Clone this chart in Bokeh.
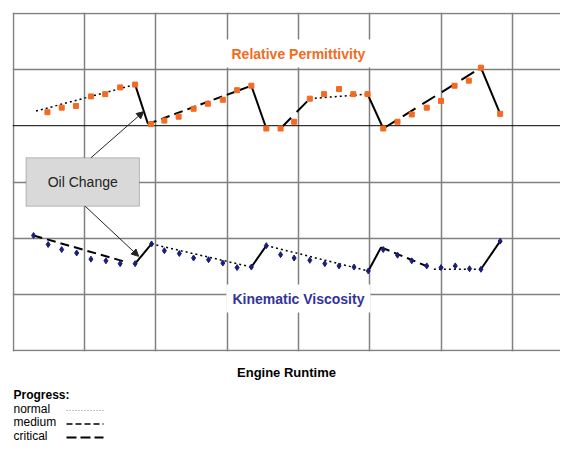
from bokeh.plotting import figure
from bokeh.layouts import column
from bokeh.models import (ColumnDataSource, Label, Arrow, NormalHead, BoxAnnotation,
                          Span, FixedTicker, Range1d)
from bokeh.core.properties import value
from bokeh.embed import file_html
from bokeh.resources import INLINE

# ---------------- data ----------------
perm_x = [0.48, 0.68, 0.88, 1.09, 1.29, 1.50, 1.71, 1.93, 2.12, 2.32, 2.53, 2.73, 2.94,
          3.14, 3.34, 3.55, 3.75, 3.94, 4.16, 4.36, 4.57, 4.77, 4.97, 5.19, 5.39, 5.59,
          5.80, 6.00, 6.19, 6.39, 6.56, 6.83]
perm_y = [4.24, 4.32, 4.35, 4.52, 4.56, 4.68, 4.73, 4.03, 4.09, 4.16, 4.30, 4.39, 4.46,
          4.63, 4.71, 3.95, 3.95, 4.07, 4.48, 4.56, 4.65, 4.56, 4.56, 3.95, 4.07, 4.20,
          4.32, 4.44, 4.71, 4.80, 5.03, 4.21]

visc_x = [0.285, 0.49, 0.68, 0.89, 1.09, 1.30, 1.50, 1.71, 1.94, 2.12, 2.33, 2.53, 2.74,
          2.94, 3.14, 3.34, 3.55, 3.75, 3.94, 4.16, 4.37, 4.57, 4.78, 4.98, 5.19, 5.39,
          5.59, 5.80, 6.00, 6.20, 6.40, 6.56, 6.83]
visc_y = [2.05, 1.89, 1.80, 1.74, 1.63, 1.60, 1.55, 1.55, 1.90, 1.78, 1.73, 1.65, 1.62,
          1.56, 1.48, 1.49, 1.87, 1.71, 1.65, 1.61, 1.55, 1.51, 1.49, 1.42, 1.80, 1.70,
          1.60, 1.51, 1.48, 1.51, 1.46, 1.45, 1.95]

# trend segments (progress style)
perm_seg_style = ["normal", "change", "medium", "change", "critical", "normal",
                  "change", "critical", "change"]
perm_seg_x0 = [0.32, 1.71, 1.89, 3.34, 3.75, 4.16, 4.97, 5.19, 6.56]
perm_seg_y0 = [4.26, 4.73, 4.03, 4.71, 3.95, 4.48, 4.56, 3.95, 5.03]
perm_seg_x1 = [1.71, 1.89, 3.34, 3.55, 4.16, 4.97, 5.19, 6.56, 6.83]
perm_seg_y1 = [4.73, 4.03, 4.71, 3.95, 4.48, 4.56, 3.95, 5.03, 4.21]

visc_seg_style = ["medium", "change", "normal", "change", "normal", "change",
                  "medium", "normal", "change"]
visc_seg_x0 = [0.285, 1.71, 1.94, 3.34, 3.55, 4.98, 5.16, 5.90, 6.56]
visc_seg_y0 = [2.05, 1.55, 1.90, 1.49, 1.87, 1.42, 1.84, 1.45, 1.45]
visc_seg_x1 = [1.58, 1.94, 3.34, 3.55, 4.98, 5.16, 5.81, 6.56, 6.83]
visc_seg_y1 = [1.58, 1.90, 1.49, 1.87, 1.42, 1.84, 1.50, 1.45, 1.95]

grid_x = [0, 1, 2, 3, 4, 5, 6, 7]
grid_y = [0, 1, 2, 3, 5, 6]
baseline_y = 4

legend_title = "Progress:"
legend_labels = ["normal", "medium", "critical"]

# ---------------- styles ----------------
FONT = "Liberation Sans"
ORANGE = "#F26B22"
NAVY = "#1C1C7A"
BLUE_TXT = "#33339A"
styles = {
    "normal": dict(line_dash="2 3", line_width=1.5),
    "medium": dict(line_dash="9 5", line_width=2),
    "critical": dict(line_dash="15 8", line_width=2),
    "change": dict(line_dash="solid", line_width=2),
}
legend_styles = {
    "normal": dict(line_dash="1 2", line_width=1, line_color="#8a8a8a"),
    "medium": dict(line_dash="6 3", line_width=1.5, line_color="black"),
    "critical": dict(line_dash="10 4", line_width=2, line_color="black"),
}

chart = figure(width=560, height=382, x_range=(-0.01, 7.676), y_range=(-0.01, 6.01),
               output_backend="svg", toolbar_location=None,
               min_border_left=12, min_border_right=0, min_border_top=12,
               min_border_bottom=29)
chart.outline_line_color = None
chart.background_fill_color = "white"
chart.yaxis.visible = False

xa = chart.xaxis[0]
xa.ticker = FixedTicker(ticks=[])
xa.axis_line_color = None
xa.major_tick_line_color = None
xa.minor_tick_line_color = None
xa.major_tick_out = 0
xa.major_label_standoff = 0
xa.axis_label = "Engine Runtime"
xa.axis_label_text_font = FONT
xa.axis_label_text_font_style = "bold"
xa.axis_label_text_font_size = "13px"
xa.axis_label_text_color = "black"
xa.axis_label_standoff = 13

for g, t in ((chart.xgrid[0], grid_x), (chart.ygrid[0], grid_y)):
    g.ticker = FixedTicker(ticks=t)
    g.grid_line_color = "#808080"
    g.grid_line_width = 1.5

chart.add_layout(Span(location=baseline_y, dimension="width", line_color="black",
                      line_width=1, level="underlay"))

# trend segments
def draw_segments(style, xs0, ys0, xs1, ys1):
    for st in styles:
        idx = [i for i, s in enumerate(style) if s == st]
        if not idx:
            continue
        src = ColumnDataSource(dict(x0=[xs0[i] for i in idx], y0=[ys0[i] for i in idx],
                                    x1=[xs1[i] for i in idx], y1=[ys1[i] for i in idx]))
        chart.segment("x0", "y0", "x1", "y1", source=src, line_color="black", **styles[st])

draw_segments(perm_seg_style, perm_seg_x0, perm_seg_y0, perm_seg_x1, perm_seg_y1)
draw_segments(visc_seg_style, visc_seg_x0, visc_seg_y0, visc_seg_x1, visc_seg_y1)

chart.scatter(perm_x, perm_y, marker="square", size=5, color=ORANGE)
chart.scatter(visc_x, visc_y, marker="diamond", size=6, color=NAVY)

# series titles with white boxes
chart.add_layout(Label(x=4.0, y=5.28, text="Relative Permittivity", text_font=FONT,
                       text_font_style="bold", text_font_size="14px", text_color=ORANGE,
                       text_align="center", text_baseline="middle",
                       background_fill_color="white", padding=6))
chart.add_layout(Label(x=4.0, y=0.93, text="Kinematic Viscosity", text_font=FONT,
                       text_font_style="bold", text_font_size="14px", text_color=BLUE_TXT,
                       text_align="center", text_baseline="middle",
                       background_fill_color="white", padding=6))

# oil change callout
chart.add_layout(BoxAnnotation(left=0.18, right=1.77, bottom=2.57, top=3.43,
                               fill_color="#D9D9D9", fill_alpha=1,
                               line_color="#404040", line_width=1, level="annotation"))
chart.add_layout(Label(x=0.975, y=3.0, text="Oil Change", text_font=FONT,
                       text_font_size="14px", text_color="#222222",
                       text_align="center", text_baseline="middle"))
for (xs, ys, xe, ye) in ((1.09, 3.43, 1.83, 4.25), (1.01, 2.57, 1.76, 1.68)):
    chart.add_layout(Arrow(x_start=xs, y_start=ys, x_end=xe, y_end=ye, line_width=1,
                           line_color="#222222",
                           end=NormalHead(size=7, fill_color="#222222",
                                          line_color="#222222")))

# ---------------- progress legend (separate strip below the chart) ----------------
# its frame lines up with the chart's frame (12px left border); x is pixels from the left
leg = figure(width=560, height=59, x_range=Range1d(12, 560), y_range=Range1d(59, 0),
             output_backend="svg", toolbar_location=None,
             min_border_left=12, min_border_right=0, min_border_top=0, min_border_bottom=0)
leg.axis.visible = False
leg.grid.visible = False
leg.outline_line_color = None

TXT_X = 13
leg.text(x=[TXT_X], y=[12], text=[legend_title], text_font=value(FONT),
         text_font_style="bold", text_font_size="12px", text_color="black",
         text_align="left", text_baseline="middle")
row_y = [26, 39.5, 53]
leg.text(x=[TXT_X] * 3, y=row_y, text=legend_labels, text_font=value(FONT),
         text_font_size="12px", text_color="black",
         text_align="left", text_baseline="middle")
for lab, ry in zip(legend_labels, row_y):
    leg.segment(x0=[66], y0=[ry + 2], x1=[103], y1=[ry + 2], **legend_styles[lab])

p = column(chart, leg, spacing=0)

open("out.html", "w").write(file_html(p, INLINE))
